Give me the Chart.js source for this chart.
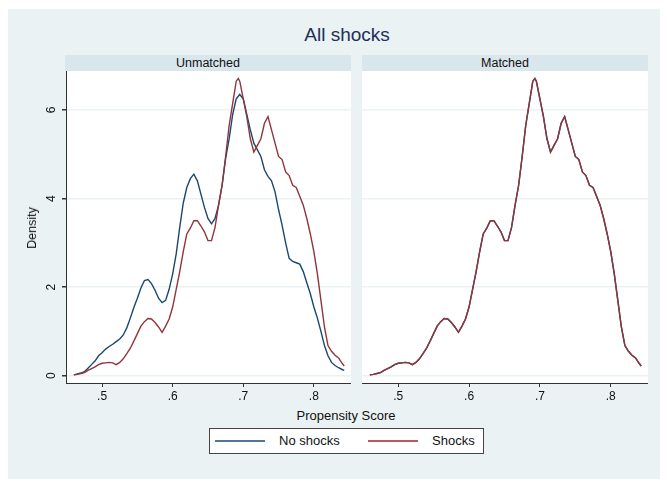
<!DOCTYPE html>
<html>
<head>
<meta charset="utf-8">
<script src="https://cdn.jsdelivr.net/npm/chart.js@4.4.0/dist/chart.umd.min.js"></script>
<style>
  html, body { margin: 0; padding: 0; background: #fff; }
  body { width: 667px; height: 483px; position: relative; overflow: hidden; font-family: "Liberation Sans", Arial, sans-serif; }
  #bg { position: absolute; left: 8px; top: 9px; width: 652px; height: 470px; background: #eaf2f3; }
  .abs { position: absolute; }
  .strip { position: absolute; top: 55px; height: 16px; background: #d9e6eb; font-size: 12.5px; line-height: 16px; text-align: center; color: #111; }
  .plotbg { position: absolute; top: 71px; height: 312px; background: #fff; }
  #title { left: 0; width: 694px; top: 24px; text-align: center; font-size: 19px; color: #1f2f57; }
  #ytitle { left: 32px; top: 228px; transform: translate(-50%, -50%) rotate(-90deg); font-size: 12.5px; color: #111; }
  #xtitle { left: 0; width: 692px; top: 408px; text-align: center; font-size: 13px; color: #111; }
  #legend { left: 209px; top: 428px; width: 273px; height: 24px; background: #fff; border: 1px solid #444; }
  .swatch { position: absolute; top: 11px; width: 50px; height: 2px; }
  .ltext { position: absolute; top: 4px; font-size: 13px; color: #111; }
  canvas { position: absolute; }
</style>
</head>
<body>
<div id="bg"></div>
<div id="title" class="abs">All shocks</div>
<div class="plotbg" style="left:66px;width:285px"></div>
<div class="plotbg" style="left:362px;width:286px"></div>
<div class="strip" style="left:65px;width:286px">Unmatched</div>
<div class="strip" style="left:362px;width:286px">Matched</div>
<canvas id="c1" width="351" height="335" style="left:0;top:71px"></canvas>
<canvas id="c2" width="286" height="335" style="left:362px;top:71px"></canvas>
<div id="ytitle" class="abs">Density</div>
<div id="xtitle" class="abs">Propensity Score</div>
<div id="legend" class="abs">
  <div class="swatch" style="left:5px;background:#4d77a0"></div>
  <div class="ltext" style="left:69px">No shocks</div>
  <div class="swatch" style="left:158px;background:#bb5a5d"></div>
  <div class="ltext" style="left:222px">Shocks</div>
</div>
<script>
// Kernel density of propensity score
const noShockX = [0.460, 0.465, 0.470, 0.475, 0.480, 0.485, 0.490, 0.495, 0.500, 0.505, 0.510, 0.515, 0.520, 0.525, 0.530, 0.535, 0.540, 0.545, 0.550, 0.555, 0.560, 0.565, 0.570, 0.575, 0.580, 0.585, 0.590, 0.595, 0.600, 0.605, 0.610, 0.615, 0.620, 0.625, 0.630, 0.635, 0.640, 0.645, 0.650, 0.655, 0.660, 0.665, 0.670, 0.675, 0.680, 0.685, 0.690, 0.695, 0.700, 0.705, 0.710, 0.715, 0.720, 0.725, 0.730, 0.735, 0.740, 0.745, 0.750, 0.755, 0.760, 0.765, 0.770, 0.775, 0.780, 0.785, 0.790, 0.795, 0.800, 0.805, 0.810, 0.815, 0.820, 0.825, 0.830, 0.835, 0.840, 0.843];
const noShockY = [0.02, 0.04, 0.06, 0.09, 0.17, 0.25, 0.33, 0.45, 0.52, 0.60, 0.66, 0.71, 0.77, 0.83, 0.92, 1.08, 1.30, 1.54, 1.75, 1.98, 2.15, 2.17, 2.08, 1.93, 1.75, 1.65, 1.70, 1.95, 2.30, 2.75, 3.35, 3.90, 4.25, 4.45, 4.55, 4.40, 4.10, 3.80, 3.55, 3.43, 3.55, 3.85, 4.30, 4.90, 5.35, 5.90, 6.25, 6.35, 6.25, 5.90, 5.55, 5.25, 5.10, 4.95, 4.65, 4.50, 4.40, 4.15, 3.75, 3.40, 3.00, 2.65, 2.58, 2.55, 2.52, 2.35, 2.10, 1.85, 1.55, 1.30, 1.00, 0.68, 0.45, 0.30, 0.23, 0.18, 0.14, 0.12];

const shockX = [0.460, 0.465, 0.470, 0.475, 0.480, 0.485, 0.490, 0.495, 0.500, 0.505, 0.510, 0.515, 0.520, 0.525, 0.530, 0.535, 0.540, 0.545, 0.550, 0.555, 0.560, 0.565, 0.570, 0.575, 0.580, 0.585, 0.590, 0.595, 0.600, 0.605, 0.610, 0.615, 0.620, 0.625, 0.630, 0.635, 0.640, 0.645, 0.650, 0.655, 0.660, 0.665, 0.670, 0.675, 0.680, 0.685, 0.690, 0.693, 0.695, 0.700, 0.705, 0.710, 0.715, 0.720, 0.725, 0.730, 0.735, 0.740, 0.745, 0.750, 0.755, 0.760, 0.765, 0.770, 0.775, 0.780, 0.785, 0.790, 0.795, 0.800, 0.805, 0.810, 0.815, 0.820, 0.825, 0.830, 0.835, 0.840, 0.843];
const shockY = [0.02, 0.03, 0.05, 0.07, 0.12, 0.16, 0.20, 0.25, 0.28, 0.29, 0.30, 0.29, 0.25, 0.30, 0.38, 0.50, 0.62, 0.78, 0.95, 1.12, 1.22, 1.29, 1.28, 1.20, 1.10, 0.98, 1.12, 1.28, 1.55, 1.95, 2.35, 2.80, 3.20, 3.33, 3.50, 3.50, 3.38, 3.25, 3.05, 3.05, 3.35, 3.85, 4.30, 4.95, 5.65, 6.15, 6.65, 6.71, 6.65, 6.25, 5.85, 5.35, 5.05, 5.20, 5.35, 5.70, 5.85, 5.55, 5.25, 4.95, 4.88, 4.60, 4.52, 4.30, 4.25, 4.05, 3.85, 3.55, 3.20, 2.80, 2.30, 1.70, 1.10, 0.68, 0.55, 0.46, 0.40, 0.28, 0.22];

// In the matched sample both groups share the same density
const matchedX = shockX;
const matchedY = shockY;

const xTicks = [0.5, 0.6, 0.7, 0.8];
const yTicks = [0, 2, 4, 6];

const NAVY = '#1a476f';
const MAROON = '#90353b';
const GRID = '#eaf2f3';
const AXIS = '#333';
const FONT = '"Liberation Sans", Arial, sans-serif';

function toPoints(xs, ys) {
    return xs.map((x, i) => ({ x: x, y: ys[i] }));
}

function makeSet(label, xs, ys, color) {
    return {
        label: label,
        data: toPoints(xs, ys),
        borderColor: color,
        borderWidth: 1.4,
        pointRadius: 0,
        tension: 0,
        fill: false
    };
}

// y tick labels are drawn rotated like Stata does
const rotatedYLabels = {
    id: 'rotatedYLabels',
    afterDraw(chart) {
        const s = chart.scales.y;
        const ctx = chart.ctx;
        ctx.save();
        ctx.fillStyle = '#111';
        ctx.font = '12px ' + FONT;
        ctx.textAlign = 'center';
        ctx.textBaseline = 'middle';
        yTicks.forEach(v => {
            const py = s.getPixelForValue(v);
            ctx.save();
            ctx.translate(52, py);
            ctx.rotate(-Math.PI / 2);
            ctx.fillText(String(v), 0, 0);
            ctx.restore();
        });
        ctx.restore();
    }
};

function createPanel(id, datasets, showY) {
    return new Chart(document.getElementById(id), {
        type: 'line',
        data: { datasets: datasets },
        options: {
            responsive: false,
            animation: false,
            devicePixelRatio: 1,
            layout: { padding: 0 },
            scales: {
                x: {
                    type: 'linear',
                    min: 0.4489,
                    max: 0.8526,
                    afterBuildTicks: s => { s.ticks = xTicks.map(v => ({ value: v })); },
                    afterFit: s => { s.height = 23; },
                    grid: { display: true, drawOnChartArea: false, tickLength: 4, tickColor: AXIS },
                    border: { display: true, color: AXIS, width: 1 },
                    ticks: {
                        color: '#111',
                        font: { family: FONT, size: 12 },
                        padding: 2,
                        maxRotation: 0,
                        callback: v => '.' + Math.round(v * 10)
                    }
                },
                y: {
                    type: 'linear',
                    min: -0.165,
                    max: 6.88,
                    afterBuildTicks: s => { s.ticks = yTicks.map(v => ({ value: v })); },
                    afterFit: s => { s.width = showY ? 66 : 0; },
                    grid: {
                        color: GRID,
                        lineWidth: 1.5,
                        drawTicks: showY,
                        tickLength: 4,
                        tickColor: AXIS
                    },
                    border: { display: showY, color: AXIS, width: 1 },
                    ticks: { display: false }
                }
            },
            plugins: {
                legend: { display: false },
                tooltip: { enabled: false }
            }
        },
        plugins: showY ? [rotatedYLabels] : []
    });
}

// first dataset is painted last, so Shocks sits on top as in Stata
createPanel('c1', [
    makeSet('Shocks', shockX, shockY, MAROON),
    makeSet('No shocks', noShockX, noShockY, NAVY)
], true);

createPanel('c2', [
    makeSet('Shocks', matchedX, matchedY, MAROON),
    makeSet('No shocks', matchedX, matchedY, NAVY)
], false);
</script>
</body>
</html>
